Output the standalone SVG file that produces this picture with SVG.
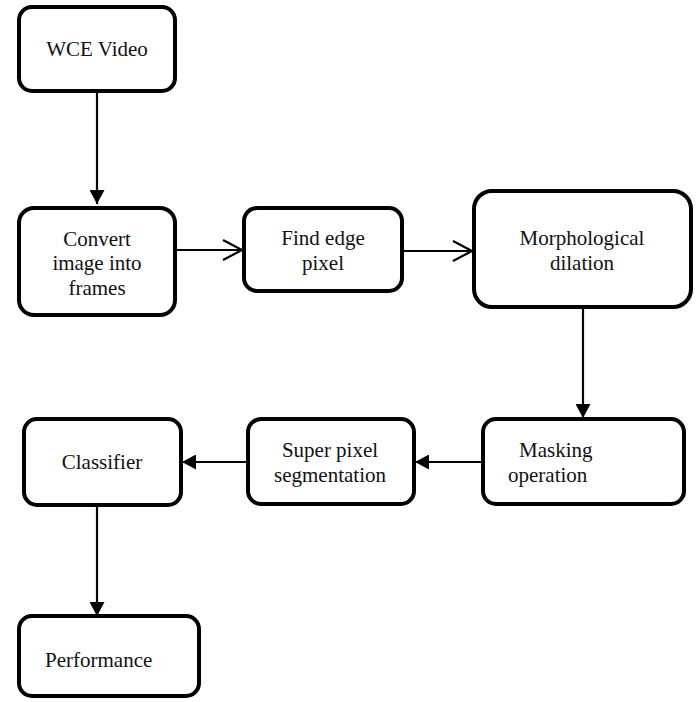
<svg xmlns="http://www.w3.org/2000/svg" width="698" height="702" viewBox="0 0 698 702">
<style>
.box{fill:#fff;stroke:#000;stroke-width:4}
.t{font-family:"Liberation Serif","Times New Roman","DejaVu Serif",serif;font-size:21px;fill:#111}
.c{text-anchor:middle}
.ln{stroke:#000;stroke-width:2.2;fill:none}
</style>
<defs>
<marker id="fa" markerWidth="15" markerHeight="15" refX="14" refY="7.5" orient="auto" markerUnits="userSpaceOnUse">
<path d="M0,0 L14,7.5 L0,15 Z" fill="#000"/>
</marker>
<marker id="oa" markerWidth="24" markerHeight="24" refX="20" refY="12" orient="auto" markerUnits="userSpaceOnUse">
<path d="M1,2 L20,12 L1,22" fill="none" stroke="#000" stroke-width="2.2"/>
</marker>
</defs>
<rect width="698" height="702" fill="#fff"/>
<g id="connectors">
<line class="ln" x1="97" y1="92" x2="97" y2="204" marker-end="url(#fa)"/>
<line class="ln" x1="176" y1="250" x2="242" y2="250" marker-end="url(#oa)"/>
<line class="ln" x1="403" y1="251" x2="472" y2="251" marker-end="url(#oa)"/>
<line class="ln" x1="583" y1="308" x2="583" y2="418" marker-end="url(#fa)"/>
<line class="ln" x1="481" y1="462" x2="415" y2="462" marker-end="url(#fa)"/>
<line class="ln" x1="246" y1="462" x2="182" y2="462" marker-end="url(#fa)"/>
<line class="ln" x1="97" y1="506" x2="97" y2="616" marker-end="url(#fa)"/>
</g>
<g id="n1"><rect class="box" x="19" y="7" width="156" height="84" rx="13"/><text class="t c" x="97" y="56">WCE Video</text></g>
<g id="n2"><rect class="box" x="19" y="208" width="156" height="107" rx="15"/><text class="t c" x="97" y="246">Convert</text><text class="t c" x="97" y="270">image into</text><text class="t c" x="97" y="295">frames</text></g>
<g id="n3"><rect class="box" x="244" y="208" width="158" height="83" rx="13"/><text class="t c" x="323" y="245">Find edge</text><text class="t c" x="323" y="270">pixel</text></g>
<g id="n4"><rect class="box" x="474" y="191" width="217" height="116" rx="18"/><text class="t c" x="582" y="245">Morphological</text><text class="t c" x="582" y="270">dilation</text></g>
<g id="n5"><rect class="box" x="483" y="419" width="201" height="85" rx="13"/><text class="t" x="519" y="457">Masking</text><text class="t" x="508" y="482">operation</text></g>
<g id="n6"><rect class="box" x="248" y="419" width="166" height="85" rx="13"/><text class="t c" x="330" y="457">Super pixel</text><text class="t c" x="330" y="482">segmentation</text></g>
<g id="n7"><rect class="box" x="24" y="419" width="157" height="86" rx="13"/><text class="t c" x="102" y="469">Classifier</text></g>
<g id="n8"><rect class="box" x="19" y="616" width="180" height="80" rx="13"/><text class="t" x="45" y="667">Performance</text></g>
</svg>
